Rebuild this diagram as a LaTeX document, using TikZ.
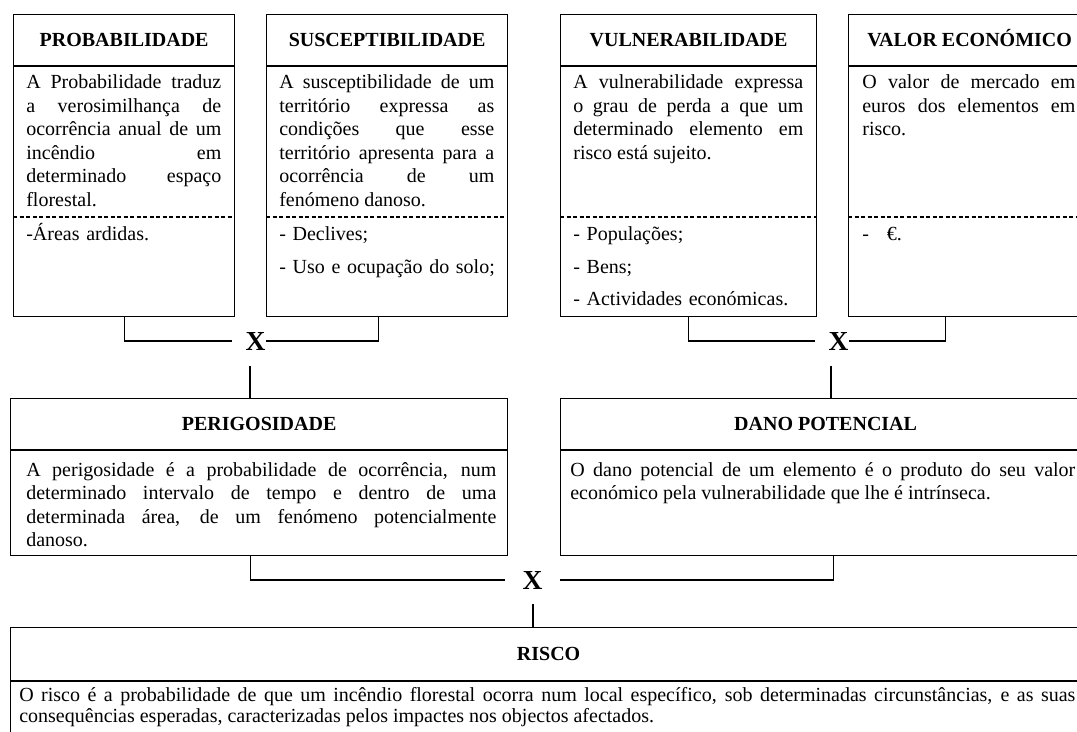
\documentclass[tikz,border=0pt]{standalone}
\usepackage{fontspec}
\setmainfont{Liberation Serif}
\usetikzlibrary{positioning, calc}
\newdimen\pxu \pxu=0.6pt
\tolerance=10000 \hyphenpenalty=10000
\tikzset{box/.style={draw, line width=0.75pt, anchor=north west, inner sep=0pt},
	head/.style={anchor=base, inner sep=0pt, font=\fontsize{12}{14}\selectfont\bfseries},
	body/.style={anchor=base west, inner sep=0pt, align=justify, font=\fontsize{12}{14.1}\selectfont},
	items/.style={anchor=base west, inner sep=0pt, align=left, font=\fontsize{12}{19.5}\selectfont},
	mult/.style={inner sep=0pt, font=\fontsize{16.5}{18}\selectfont\bfseries},
	link/.style={line width=0.75pt},
	dots/.style={line width=1.1pt, dash pattern=on 2.4pt off 1.5pt},}
\begin{document}
\begin{tikzpicture}[x=0.6pt, y=-0.6pt]
			\useasboundingbox (0,0) rectangle (1077,732);
			\fill[white] (0,0) rectangle (1077,732);
			\clip (0,0) rectangle (1077,732);
			% Top boxes
			\node[box, minimum width=221\pxu, minimum height=302\pxu] (prob) at (13,14) {};
			\node[box, minimum width=241\pxu, minimum height=302\pxu] (susc) at (266,14) {};
			\node[box, minimum width=256\pxu, minimum height=302\pxu] (vuln) at (560,14) {};
			\node[box, minimum width=242\pxu, minimum height=302\pxu] (valor) at (848,14) {};
			\foreach \b in {prob, susc, vuln, valor} {
				\draw[link] (\b.west |- 0,66) -- (\b.east |- 0,66);
				\draw[dots] (\b.west |- 0,217) -- (\b.east |- 0,217);
			}
			\node[head] (probh) at (prob.north |- 0,46.75) {PROBABILIDADE};
			\node[head] (susch) at (susc.north |- 0,46.75) {SUSCEPTIBILIDADE};
			\node[head] (vulnh) at (vuln.north |- 0,46.75) {VULNERABILIDADE};
			\node[head] (valorh) at (valor.north |- 0,46.75) {VALOR ECONÓMICO};
			\node[body, text width=195\pxu] (probb) at (26,89) {A Probabilidade traduz\linebreak a verosimilhança de\linebreak ocorrência anual de um\linebreak incêndio em\linebreak determinado espaço\linebreak florestal.};
			\node[body, text width=215\pxu] (suscb) at (279,89) {A susceptibilidade de um\linebreak território expressa as\linebreak condições que esse\linebreak território apresenta para a\linebreak ocorrência de um\linebreak fenómeno danoso.};
			\node[body, text width=230\pxu] (vulnb) at (573,89) {A vulnerabilidade expressa\linebreak o grau de perda a que um\linebreak determinado elemento em\linebreak risco está sujeito.};
			\node[body, text width=213\pxu] (valorb) at (862,89) {O valor de mercado em\linebreak euros dos elementos em\linebreak risco.};
			\node[items, text width=200\pxu] (probl) at (26,241) {-Áreas ardidas.};
			\node[items, text width=226\pxu] (suscl) at (279,241) {- Declives;\\- Uso e ocupação do solo;};
			\node[items, text width=236\pxu] (vulnl) at (573,241) {- Populações;\\- Bens;\\- Actividades económicas.};
			\node[items, text width=210\pxu] (valorl) at (862,241) {-\hspace{0.9em}€.};
			% Products
			\node[mult] (xa) at (255.5,341) {X};
			\node[mult] (xb) at (838.5,341) {X};
			\node[mult] (xc) at (532.5,580) {X};
			% Middle boxes
			\node[box, minimum width=497\pxu, minimum height=157\pxu] (perig) at (10,398) {};
			\node[box, minimum width=530\pxu, minimum height=157\pxu] (dano) at (560,398) {};
			\foreach \b in {perig, dano}
				\draw[link] (\b.west |- 0,450) -- (\b.east |- 0,450);
			\node[head] (perigh) at (perig.north |- 0,430.75) {PERIGOSIDADE};
			\node[head] (danoh) at (dano.north |- 0,430.75) {DANO POTENCIAL};
			\node[body, text width=470\pxu] (perigb) at (26,476) {A perigosidade é a probabilidade de ocorrência, num\linebreak determinado intervalo de tempo e dentro de uma\linebreak determinada área, de um fenómeno potencialmente\linebreak danoso.};
			\node[body, text width=505\pxu] (danob) at (570,476) {O dano potencial de um elemento é o produto do seu valor\linebreak económico pela vulnerabilidade que lhe é intrínseca.};
			% Bottom box
			\node[box, minimum width=1076\pxu, minimum height=140\pxu] (risco) at (10,627) {};
			\draw[link] (risco.west |- 0,681) -- (risco.east |- 0,681);
			\node[head] (riscoh) at (risco.north |- 0,660.75) {RISCO};
			\node[body, text width=1056\pxu, font=\fontsize{12}{12.6}\selectfont] (riscob) at (19,701) {O risco é a probabilidade de que um incêndio florestal ocorra num local específico, sob determinadas circunstâncias, e as suas\linebreak consequências esperadas, caracterizadas pelos impactes nos objectos afectados.};
			% Connectors
			\coordinate (ja) at (250,366);
			\coordinate (jb) at (831,366);
			\coordinate (jc) at (533,604);
			\draw[link] (prob.south) |- ($(xa.west)+(-13,0)$);
			\draw[link] (xa.east) -| ($(susc.south)+(-8.5,0)$);
			\draw[link] (vuln.south) |- ($(xb.west)+(-13,0)$);
			\draw[link] (xb.east) -| ($(valor.south)+(-24,0)$);
			\draw[link] (ja) -- (ja |- perig.north);
			\draw[link] (jb) -- (jb |- dano.north);
			\draw[link] ($(perig.south)+(-8.5,0)$) |- ($(xc.west)+(-17,0)$);
			\draw[link] ($(xc.east)+(17,0)$) -| ($(dano.south)+(8,0)$);
			\draw[link] (jc) -- (jc |- risco.north);
		\end{tikzpicture}
\end{document}
